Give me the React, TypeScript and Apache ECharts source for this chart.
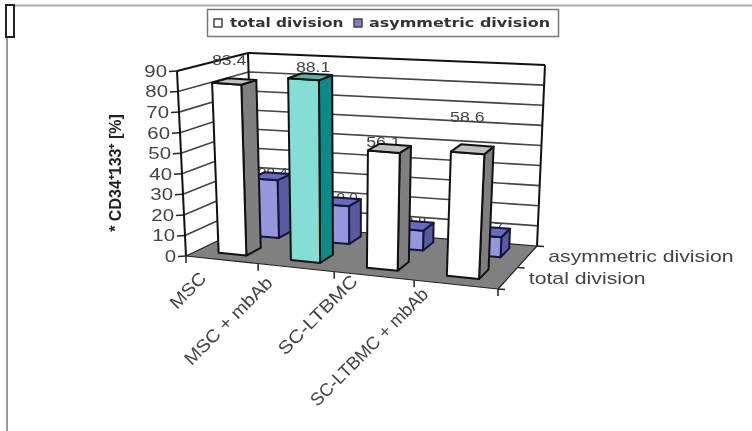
import React, { useEffect, useRef } from "react";
import * as echarts from "echarts";

const categories = ["MSC", "MSC + mbAb", "SC-LTBMC", "SC-LTBMC + mbAb"];
const seriesNames = ["total division", "asymmetric division"];
const totalDivision = [83.4, 88.1, 56.1, 58.6];
const asymmetricDivision = [29.4, 19.0, 9.8, 9.7];
const yTicks = [0, 10, 20, 30, 40, 50, 60, 70, 80, 90];

const W = 752, H = 431;
const FONT = '"Liberation Sans", Arial, sans-serif';
type P = [number, number];

const lerp = (a: P, b: P, s: number): P => [a[0] + (b[0] - a[0]) * s, a[1] + (b[1] - a[1]) * s];
// slight foreshortening along the category direction
const warp = (u: number) => u - 0.1 * u * (1 - u);
function quad(a: P, b: P, c: P, d: P) {
  return (u: number, v: number): P => {
    const w = warp(u);
    return lerp(lerp(a, b, w), lerp(d, c, w), v);
  };
}
const floorAt = quad([186, 256], [498, 289], [537, 246], [253, 224]);
const topAt = quad([177, 71], [508, 94], [545, 65], [248, 53]);

// u: category share 0..1, d: depth 0..1, t: value share 0..1
function project(u: number, d: number, t: number): P {
  return lerp(floorAt(u, d), topAt(u, d), t);
}
// reads the value scale through the (hidden) cartesian axes
function toShare(api: any, cat: number, val: number) {
  const pt = api.coord([cat, val]);
  return { u: pt[0] / W, t: 1 - pt[1] / H };
}

const poly = (points: P[], fill: string, stroke: string, lineWidth: number) => ({
  type: "polygon", shape: { points }, style: { fill, stroke, lineWidth, lineJoin: "round" },
});
const seg = (a: P, b: P, stroke: string, lineWidth: number) => ({
  type: "line", shape: { x1: a[0], y1: a[1], x2: b[0], y2: b[1] }, style: { stroke, lineWidth },
});
const txt = (text: string, x: number, y: number, fontSize: number, fill: string, extra: any = {}, el: any = {}) => ({
  type: "text", x, y, ...el,
  style: { text, x: 0, y: 0, fill, fontFamily: FONT, fontSize, align: "center", verticalAlign: "middle", ...extra },
});

function barItem(colors: any, d0: number, d1: number, halfW: number, label: any) {
  return (params: any, api: any) => {
    const cat = api.value(0), val = api.value(1);
    const base = toShare(api, cat + 0.5 - halfW, 0);
    const far = toShare(api, cat + 0.5 + halfW, val);
    const u0 = base.u, u1 = far.u, t = far.t;
    const col = (label.colorOverride && label.colorOverride[params.dataIndex]) || colors;
    const a = project(u0, d0, 0), b = project(u1, d0, 0), e = project(u1, d1, 0);
    const A = project(u0, d0, t), B = project(u1, d0, t), E = project(u1, d1, t), G = project(u0, d1, t);
    const off = label.offsets[params.dataIndex];
    return {
      type: "group",
      children: [
        txt(val.toFixed(1), (A[0] + E[0]) / 2 + off[0], (A[1] + E[1]) / 2 + off[1], label.size, "#444", {}, { scaleX: 1.18 }),
        poly([b, e, E, B], col.side, col.edge, 2),
        poly([a, b, B, A], col.front, col.edge, 2),
        poly([A, B, E, G], col.top, col.edge, 2),
      ],
    };
  };
}

const whiteBar = { front: "#ffffff", side: "#7f7f7f", top: "#c0c0c0", edge: "#111" };
const tealBar = { front: "#85ddd5", side: "#0b8a88", top: "#5fb0a8", edge: "#111" };
const purpleBar = { front: "#9696dc", side: "#5a5aa0", top: "#6a6abc", edge: "#14143c" };

function renderFrame(params: any, api: any) {
  const v = api.value(0);
  const { t } = toShare(api, 0, v);
  const children: any[] = [];
  const flb = project(0, 0, t), blb = project(0, 1, t), brb = project(1, 1, t);
  if (v > 0 && v < 90) {
    children.push(seg(flb, blb, "#444", 1.6), seg(blb, brb, "#444", 1.6));
  }
  if (v === 90) {
    children.push(seg(project(0, 0, 1), project(0, 1, 1), "#111", 2), seg(project(0, 1, 1), project(1, 1, 1), "#111", 2));
    children.push(seg(project(1, 1, 1), project(1, 1, 0), "#111", 2), seg(project(0, 1, 1), project(0, 1, 0), "#111", 2));
    children.push(seg(project(0, 0, 1), project(0, 0, 0), "#111", 2));
  }
  children.push(seg([flb[0] - 8, flb[1] + 0.5], flb, "#222", 1.5));
  children.push(txt(String(v), flb[0] - 10, flb[1], 17, "#444", { align: "right" }, { scaleX: 1.2 }));
  return { type: "group", children };
}

function renderFloor() {
  return poly([project(0, 0, 0), project(1, 0, 0), project(1, 1, 0), project(0, 1, 0)], "#808080", "#222", 1.2);
}

const labelAnchor: P[] = [[17, 19], [11, 16], [20, 6], [11, 11]];
const labelStretch = [1.08, 1.08, 1.15, 1];

function renderCategory(params: any, api: any) {
  const i = api.value(0);
  const { u } = toShare(api, i, 0);
  const p = project(u, 0, 0);
  const q = project(toShare(api, i + 1, 0).u, 0, 0);
  return {
    type: "group",
    children: [
      seg(q, [q[0], q[1] + 7], "#222", 1.5),
      i === 0 ? seg(p, [p[0], p[1] + 7], "#222", 1.5) : { type: "group", children: [] },
      txt(categories[i], p[0] + labelAnchor[i][0], p[1] + labelAnchor[i][1], 18, "#444", { align: "right" }, { rotation: Math.PI / 4, scaleX: labelStretch[i] }),
    ],
  };
}

function renderDepth(params: any, api: any) {
  const i = api.value(0);
  const p0 = project(1, i / 2, 0), p1 = project(1, (i + 1) / 2, 0);
  const m = project(1, (i + 0.5) / 2, 0);
  return {
    type: "group",
    children: [
      seg(p0, [p0[0] + 7, p0[1] + 0.5], "#222", 1.5),
      i === 1 ? seg(p1, [p1[0] + 7, p1[1] + 0.5], "#222", 1.5) : { type: "group", children: [] },
      txt(seriesNames[i], m[0] + 21, m[1], 17, "#444", { align: "left" }, { scaleX: 1.25 }),
    ],
  };
}

const legendText = (text: string, x: number, scaleX: number) => ({
  type: "text", x, y: 22.5, scaleX,
  style: { text, x: 0, y: 0, align: "left", verticalAlign: "middle", fill: "#333", fontFamily: '"DejaVu Sans"', fontWeight: "bold", fontSize: 13 },
});

export default function App() {
  const ref = useRef<HTMLDivElement>(null);
  useEffect(() => {
    const chart = echarts.init(ref.current!, undefined, { renderer: "svg" });
    chart.setOption({
      animation: false,
      backgroundColor: "#fff",
      grid: { left: 0, right: 0, top: 0, bottom: 0 },
      xAxis: { type: "value", min: 0, max: 4, show: false },
      yAxis: { type: "value", min: 0, max: 90, show: false },
      graphic: [
        { type: "line", shape: { x1: 15, y1: 5.5, x2: 752, y2: 5.5 }, style: { stroke: "#aaa", lineWidth: 2 } },
        { type: "line", shape: { x1: 7, y1: 37, x2: 7, y2: 431 }, style: { stroke: "#999", lineWidth: 2 } },
        { type: "rect", shape: { x: 6, y: 5, width: 8, height: 32 }, style: { fill: "#fff", stroke: "#222", lineWidth: 2 } },
        { type: "rect", shape: { x: 207.5, y: 9.5, width: 351, height: 27 }, style: { fill: "#fff", stroke: "#777", lineWidth: 1.5 } },
        { type: "rect", shape: { x: 214, y: 19, width: 8, height: 8 }, style: { fill: "#fff", stroke: "#444", lineWidth: 1.5 } },
        legendText(seriesNames[0], 230, 1.18),
        { type: "rect", shape: { x: 354, y: 19, width: 8, height: 8 }, style: { fill: "#8080c8", stroke: "#444", lineWidth: 1.5 } },
        legendText(seriesNames[1], 369, 1.23),
        {
          type: "text", x: 115, y: 173, rotation: Math.PI / 2,
          style: { text: "* CD34\u207A133\u207A [%]", x: 0, y: 0, align: "center", verticalAlign: "middle", fill: "#222", fontFamily: FONT, fontWeight: "bold", fontSize: 16 },
        },
      ],
      series: [
        { type: "custom", coordinateSystem: "cartesian2d", z: 1, silent: true, renderItem: renderFrame, data: yTicks.map((v) => [v]), encode: { x: -1, y: -1 } },
        { type: "custom", coordinateSystem: "cartesian2d", z: 2, silent: true, renderItem: renderFloor, data: [[0]], encode: { x: -1, y: -1 } },
        { type: "custom", coordinateSystem: "cartesian2d", z: 2, silent: true, renderItem: renderCategory, data: categories.map((_, i) => [i]), encode: { x: -1, y: -1 } },
        { type: "custom", coordinateSystem: "cartesian2d", z: 2, silent: true, renderItem: renderDepth, data: seriesNames.map((_, i) => [i]), encode: { x: -1, y: -1 } },
        {
          name: seriesNames[1], type: "custom", coordinateSystem: "cartesian2d", z: 3, silent: true,
          renderItem: barItem(purpleBar, 0.69, 0.9, 0.195, { size: 13, offsets: [[2, -4], [2, -4], [2, -4], [2, -4]] }),
          data: asymmetricDivision.map((v, i) => [i, v]), encode: { x: 0, y: 1 },
        },
        {
          name: seriesNames[0], type: "custom", coordinateSystem: "cartesian2d", z: 4, silent: true,
          renderItem: barItem(whiteBar, 0.17, 0.4, 0.195, { size: 15, colorOverride: { 1: tealBar }, offsets: [[-5, -22], [3, -10], [-6, -7], [-5, -33]] }),
          data: totalDivision.map((v, i) => [i, v]), encode: { x: 0, y: 1 },
        },
      ],
    });
    return () => chart.dispose();
  }, []);
  return <div ref={ref} style={{ position: "fixed", left: 0, top: 0, width: W, height: H, filter: "blur(0.5px)" }} />;
}
